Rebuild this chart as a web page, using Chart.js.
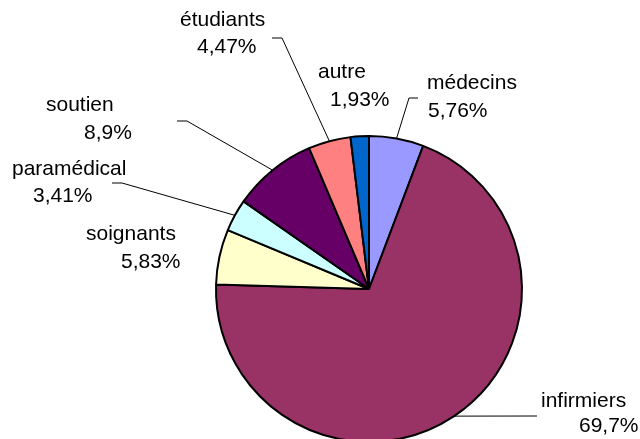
<!DOCTYPE html>
<html lang="fr">
<head>
<meta charset="utf-8">
<title>Répartition du personnel</title>
<script src="https://cdn.jsdelivr.net/npm/chart.js@4/dist/chart.umd.min.js"></script>
<style>
  html, body { margin: 0; padding: 0; background: #fff; overflow: hidden; }
  #wrap { width: 640px; height: 460px; }
</style>
</head>
<body>
<div id="wrap"><canvas id="pie" width="640" height="460"></canvas></div>
<script>
'use strict';

const categories = ['médecins', 'infirmiers', 'soignants', 'paramédical', 'soutien', 'étudiants', 'autre'];
const shares = [5.76, 69.7, 5.83, 3.41, 8.9, 4.47, 1.93];
const colours = ['#9999ff', '#993366', '#ffffcc', '#ccffff', '#660066', '#ff8080', '#0066cc'];

// Where each label sits: left x and middle y of both lines, plus the elbow of its leader line (if any)
const labelLayout = [
  { name: [427, 83], value: [428, 111], leader: [[409, 98], [418, 98]] },
  { name: [541, 401], value: [579, 426], leader: [[537, 416]] },
  { name: [86, 234], value: [121, 262], leader: null },
  { name: [12, 169], value: [33, 196], leader: [[122, 183], [112, 183]] },
  { name: [46, 105], value: [84, 133], leader: [[187, 121], [177, 121]] },
  { name: [180, 20], value: [197, 47], leader: [[282, 38], [272, 38]] },
  { name: [318, 72], value: [330, 100], leader: null }
];

const fmt = v => String(v).replace('.', ',') + '%';

// Labels and leader lines drawn on top of the slices
const pieLabels = {
  id: 'pieLabels',
  afterDraw(chart) {
    const ctx = chart.ctx;
    const arcs = chart.getDatasetMeta(0).data;
    ctx.save();
    ctx.strokeStyle = '#000';
    ctx.lineWidth = 1;
    arcs.forEach((arc, i) => {
      const lay = labelLayout[i];
      if (!lay.leader) return;
      const mid = (arc.startAngle + arc.endAngle) / 2;
      ctx.beginPath();
      ctx.moveTo(arc.x + arc.outerRadius * Math.cos(mid), arc.y + arc.outerRadius * Math.sin(mid));
      lay.leader.forEach(p => ctx.lineTo(p[0], p[1]));
      ctx.stroke();
    });
    ctx.fillStyle = '#000';
    ctx.font = '21px "Liberation Sans", Arial, sans-serif';
    ctx.textAlign = 'left';
    ctx.textBaseline = 'middle';
    categories.forEach((c, i) => {
      const lay = labelLayout[i];
      ctx.fillText(c, lay.name[0], lay.name[1]);
      ctx.fillText(fmt(shares[i]), lay.value[0], lay.value[1]);
    });
    ctx.restore();
  }
};

new Chart(document.getElementById('pie'), {
  type: 'pie',
  plugins: [pieLabels],
  data: {
    labels: categories,
    datasets: [{
      data: shares,
      backgroundColor: colours,
      borderColor: '#000',
      borderWidth: 2
    }]
  },
  options: {
    responsive: false,
    animation: false,
    layout: { padding: { left: 215, right: 117, top: 135, bottom: 17 } },
    plugins: { legend: { display: false }, tooltip: { enabled: false } }
  }
});
</script>
</body>
</html>
